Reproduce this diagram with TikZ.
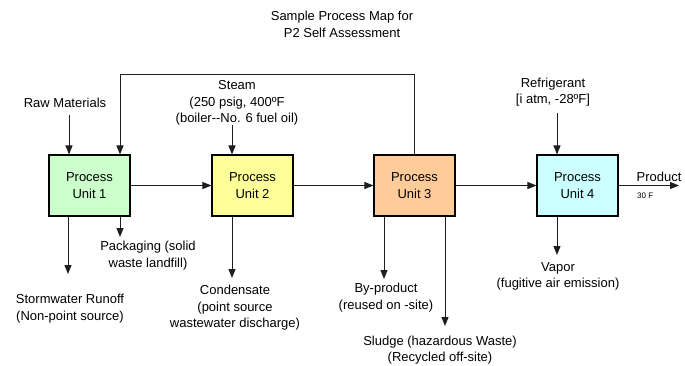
\documentclass[tikz,border=0pt]{standalone}
\usepackage{fontspec}
\setmainfont{Liberation Sans}
\usepackage{xcolor}
\definecolor{unit-green}{RGB}{204,255,204}
\definecolor{unit-yellow}{RGB}{255,255,153}
\definecolor{unit-orange}{RGB}{255,204,153}
\definecolor{unit-cyan}{RGB}{204,255,255}
\definecolor{line-800}{RGB}{30,30,30}
\usetikzlibrary{arrows.meta}

\begin{document}
\begin{tikzpicture}[
    x=1pt, y=-1pt,
    unit box/.style={
        draw=black,
        line width=1.1pt,
        minimum width=81pt,
        minimum height=61pt,
        align=center,
        inner sep=0pt,
        font=\fontsize{13}{16.5}\selectfont
    },
    label text/.style={
        align=center,
        inner sep=0pt,
        font=\fontsize{13}{16.5}\selectfont
    },
    small text/.style={
        inner sep=0pt,
        font=\fontsize{8}{9}\selectfont
    },
    flow/.style={-{Triangle[length=9pt,width=7pt]}, line width=1pt, line-800}
]

\useasboundingbox (0,0) rectangle (685,365);

% Title
\node[label text] (title) at (342,24.5) {Sample Process Map for\\P2 Self Assessment};

% Process units
\node[unit box, fill=unit-green]  (u1) at (89.5,185.5) {Process\\Unit 1};
\node[unit box, fill=unit-yellow] (u2) at (252.5,185.5) {Process\\Unit 2};
\node[unit box, fill=unit-orange] (u3) at (414.5,185.5) {Process\\Unit 3};
\node[unit box, fill=unit-cyan]   (u4) at (577.5,185.5) {Process\\Unit 4};

% Inputs
\node[label text] (raw) at (65,103) {Raw Materials};
\node[label text] (steam) at (237,103) {Steam\\(250 psig, 400ºF\\(boiler{-}{-}No. 6 fuel oil)};
\node[label text] (refrig) at (553,92) {Refrigerant\\{[i atm, -28ºF]}};

% Outputs
\node[label text] (pack) at (148,255.5) {Packaging (solid\\waste landfill)};
\node[label text] (storm) at (70,308.5) {Stormwater Runoff\\(Non-point source)};
\node[label text] (cond) at (235,308) {Condensate\\(point source\\wastewater discharge)};
\node[label text] (byprod) at (386,297.5) {By-product\\(reused on -site)};
\node[label text] (sludge) at (440,350) {Sludge (hazardous Waste)\\(Recycled off-site)};
\node[label text] (vapor) at (558,276.5) {Vapor\\(fugitive air emission)};
\node[label text] (prod) at (659,177) {Product};
\node[small text, anchor=west] (temp) at (637,196) {30 F};

% Arrow end points
\coordinate (raw tip) at (69,115);
\coordinate (steam tip) at (232,125);
\coordinate (refrig tip) at (557,113);
\coordinate (storm tip) at (68,274);
\coordinate (pack tip) at (120,237);
\coordinate (cond tip) at (232,278);
\coordinate (byprod tip) at (384,279);
\coordinate (sludge tip) at (445,326);
\coordinate (vapor tip) at (557,255);
\coordinate (prod tip) at (679,185.5);
\coordinate (loop) at (120,74);

% Inputs into units
\draw[flow] (raw tip) -- (raw tip |- u1.north);
\draw[flow] (steam tip) -- (steam tip |- u2.north);
\draw[flow] (refrig tip) -- (refrig tip |- u4.north);

% Main line
\draw[flow] (u1.east) -- (u2.west);
\draw[flow] (u2.east) -- (u3.west);
\draw[flow] (u3.east) -- (u4.west);
\draw[flow] (u4.east) -- (prod tip);

% Recycle from unit 3 back to unit 1
\draw[flow] (u3.north) |- (loop) -- (loop |- u1.north);

% Outputs from units
\draw[flow] (storm tip |- u1.south) -- (storm tip);
\draw[flow] (pack tip |- u1.south) -- (pack tip);
\draw[flow] (cond tip |- u2.south) -- (cond tip);
\draw[flow] (byprod tip |- u3.south) -- (byprod tip);
\draw[flow] (sludge tip |- u3.south) -- (sludge tip);
\draw[flow] (vapor tip |- u4.south) -- (vapor tip);

\end{tikzpicture}
\end{document}
